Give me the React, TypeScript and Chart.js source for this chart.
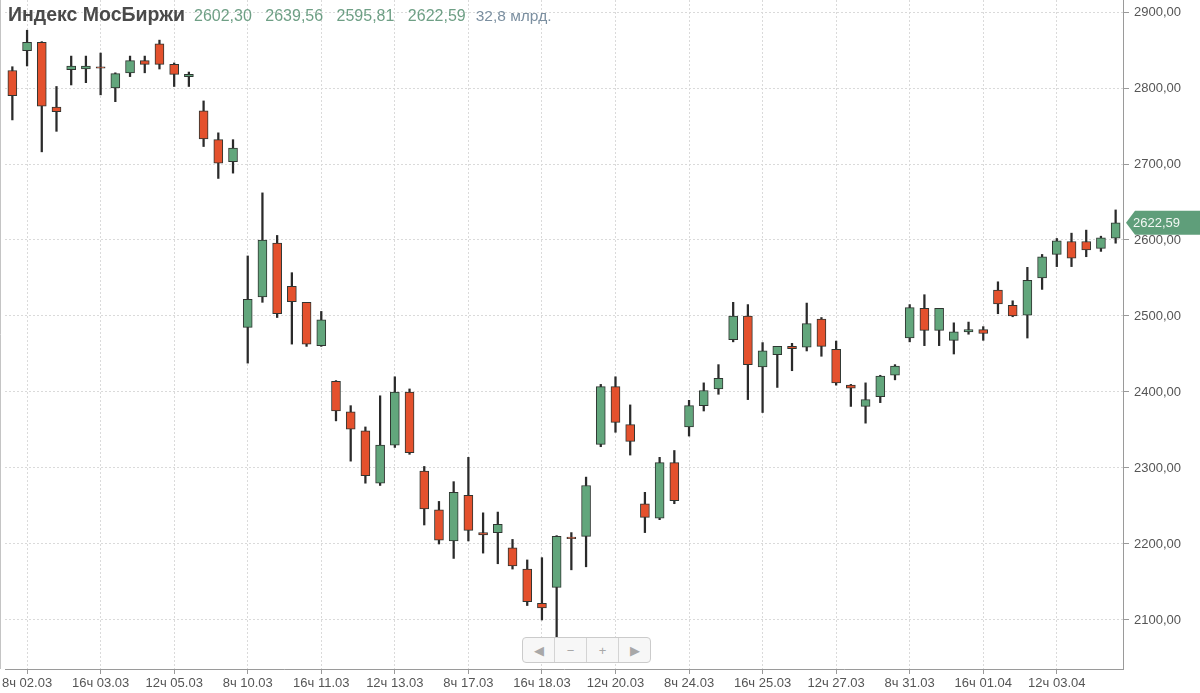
import { useEffect, useRef } from "react"
import { Chart, registerables } from "chart.js"

Chart.register(...registerables)

// trading days shown on the chart, three 4h candles per day (8ч, 12ч, 16ч)
const tradingDays = [
  "28.02", "02.03", "03.03", "04.03", "05.03", "06.03", "10.03", "11.03", "12.03",
  "13.03", "16.03", "17.03", "18.03", "19.03", "20.03", "23.03", "24.03", "25.03",
  "26.03", "27.03", "30.03", "31.03", "01.04", "02.04", "03.04", "06.04",
]
const sessionHours = ["8ч", "12ч", "16ч"]
// chart begins at the last candle of 28.02
const categories = tradingDays.flatMap((d) => sessionHours.map((h) => `${h} ${d}`)).slice(2)

const xTickLabels = [
  "8ч 02.03", "16ч 03.03", "12ч 05.03", "8ч 10.03", "16ч 11.03", "12ч 13.03", "8ч 17.03",
  "16ч 18.03", "12ч 20.03", "8ч 24.03", "16ч 25.03", "12ч 27.03", "8ч 31.03", "16ч 01.04", "12ч 03.04",
]
const yTickValues = [2100, 2200, 2300, 2400, 2500, 2600, 2700, 2800, 2900]

const opens = [
  2823, 2849, 2860, 2775, 2824, 2825, 2828, 2800, 2820, 2836, 2858, 2831, 2815, 2770, 2732, 2703,
  2485, 2525, 2596, 2539, 2518, 2461, 2414, 2374, 2349, 2280, 2330, 2400, 2296, 2245, 2204, 2264,
  2215, 2215, 2195, 2167, 2122, 2143, 2209, 2210, 2331, 2407, 2357, 2253, 2234, 2307, 2354, 2382,
  2404, 2469, 2500, 2433, 2449, 2460, 2459, 2496, 2456, 2409, 2381, 2394, 2422, 2471, 2510, 2481,
  2468, 2479, 2482, 2534, 2514, 2501, 2550, 2581, 2598, 2598, 2589, 2602.3,
]
const highs = [
  2828, 2876, 2861, 2802, 2842, 2842, 2846, 2820, 2842, 2842, 2863, 2833, 2821, 2783, 2741, 2732,
  2579, 2662, 2606, 2557, 2518, 2506, 2415, 2382, 2354, 2395, 2420, 2404, 2302, 2256, 2282, 2314,
  2241, 2242, 2206, 2179, 2182, 2211, 2215, 2288, 2410, 2420, 2383, 2268, 2314, 2323, 2389, 2412,
  2436, 2518, 2515, 2465, 2460, 2464, 2517, 2498, 2467, 2410, 2412, 2422, 2436, 2515, 2528, 2510,
  2491, 2492, 2486, 2545, 2520, 2564, 2581, 2602, 2609, 2613, 2605, 2639.56,
]
const lows = [
  2758, 2829, 2716, 2743, 2804, 2807, 2791, 2782, 2815, 2820, 2825, 2802, 2802, 2723, 2681, 2688,
  2438, 2518, 2498, 2463, 2460, 2460, 2362, 2309, 2280, 2277, 2327, 2318, 2225, 2200, 2181, 2204,
  2188, 2174, 2167, 2119, 2100, 2076, 2166, 2170, 2328, 2347, 2317, 2215, 2232, 2253, 2342, 2375,
  2397, 2466, 2390, 2373, 2406, 2428, 2454, 2447, 2409, 2381, 2359, 2386, 2416, 2466, 2461, 2461,
  2450, 2476, 2468, 2503, 2499, 2471, 2535, 2565, 2565, 2578, 2585, 2595.81,
]
const closes = [
  2790, 2860, 2776, 2769, 2829, 2829, 2826, 2819, 2836, 2831, 2831, 2818, 2818, 2733, 2701, 2721,
  2522, 2600, 2503, 2519, 2463, 2495, 2375, 2351, 2290, 2330, 2400, 2320, 2246, 2205, 2268, 2218,
  2212, 2226, 2171, 2124, 2116, 2210, 2207, 2277, 2407, 2360, 2335, 2235, 2307, 2257, 2382, 2402,
  2418, 2500, 2436, 2454, 2460, 2457, 2490, 2460, 2412, 2405, 2390, 2421, 2434, 2511, 2481, 2510,
  2479, 2482, 2477, 2516, 2500, 2547, 2578, 2599, 2576, 2587, 2603, 2622.59,
]

const UP = "#62a67c"
const DOWN = "#e4512d"
const FONT = "Arial, 'Liberation Sans', sans-serif"

const fmt = (v: number) => v.toFixed(2).replace(".", ",")

const framePlugin = {
  id: "frame",
  afterDraw(chart: Chart) {
    const { ctx, chartArea } = chart
    const yScale = chart.scales.y
    ctx.save()
    ctx.strokeStyle = "#c4c4c4"
    ctx.lineWidth = 1
    ctx.beginPath()
    ctx.moveTo(0.5, 0)
    ctx.lineTo(0.5, chartArea.bottom)
    ctx.stroke()

    // last price tag on the axis
    const last = closes[closes.length - 1]
    const py = yScale.getPixelForValue(last)
    const x0 = chartArea.right + 3
    ctx.fillStyle = "#5f9e7a"
    ctx.beginPath()
    ctx.moveTo(x0, py)
    ctx.lineTo(x0 + 9, py - 12)
    ctx.lineTo(chart.width, py - 12)
    ctx.lineTo(chart.width, py + 12)
    ctx.lineTo(x0 + 9, py + 12)
    ctx.closePath()
    ctx.fill()
    ctx.fillStyle = "#f2f7f3"
    ctx.font = `13px ${FONT}`
    ctx.textBaseline = "middle"
    ctx.fillText(fmt(last), x0 + 7, py + 1)
    ctx.restore()
  },
}

function CandleChart() {
  const chartRef = useRef<HTMLCanvasElement>(null)
  const chartInstance = useRef<Chart | null>(null)

  useEffect(() => {
    if (!chartRef.current) return
    if (chartInstance.current) chartInstance.current.destroy()
    const ctx = chartRef.current.getContext("2d")
    if (!ctx) return

    const colors = closes.map((c, i) => (c >= opens[i] ? UP : DOWN))

    chartInstance.current = new Chart(ctx, {
      type: "bar",
      data: {
        labels: categories,
        datasets: [
          {
            label: "body",
            data: opens.map((o, i) => [o, closes[i]]),
            backgroundColor: colors,
            borderColor: "#2f3531",
            borderWidth: 1,
            borderSkipped: false,
            barThickness: 9,
            grouped: false,
            order: 1,
          },
          {
            label: "wick",
            data: lows.map((l, i) => [l, highs[i]]),
            backgroundColor: "#2a2a2a",
            borderWidth: 0,
            barThickness: 1.6,
            grouped: false,
            order: 2,
          },
        ],
      },
      options: {
        responsive: true,
        maintainAspectRatio: false,
        animation: false,
        layout: { padding: { left: 5, top: 0, right: 0, bottom: 0 } },
        plugins: {
          legend: { display: false },
          tooltip: { enabled: false },
        },
        scales: {
          x: {
            type: "category",
            offset: true,
            afterBuildTicks: (axis: any) => {
              axis.ticks = axis.ticks.filter((t: any) => xTickLabels.includes(categories[t.value]))
            },
            afterFit: (axis: any) => {
              axis.height = 24
              axis.paddingLeft = 0
              axis.paddingRight = 0
            },
            grid: {
              offset: false,
              color: "#dadada",
              lineWidth: 1,
              tickLength: 5,
              tickColor: "#9a9a9a",
              tickBorderDash: [],
            },
            border: { display: true, color: "#9a9a9a", dash: [2, 2] },
            ticks: {
              autoSkip: false,
              maxRotation: 0,
              padding: 2,
              color: "#555",
              font: { family: FONT, size: 13 },
            },
          },
          y: {
            position: "right",
            min: 2035.5,
            max: 2915.8,
            afterBuildTicks: (axis: any) => {
              axis.ticks = yTickValues.map((value) => ({ value }))
            },
            afterFit: (axis: any) => {
              axis.width = 77
              axis.paddingTop = 0
              axis.paddingBottom = 0
            },
            grid: {
              color: "#dadada",
              lineWidth: 1,
              tickLength: 6,
              tickColor: "#9a9a9a",
              tickBorderDash: [],
            },
            border: { display: true, color: "#9a9a9a", dash: [2, 2] },
            ticks: {
              padding: 5,
              color: "#555",
              font: { family: FONT, size: 13 },
              callback: (v: any) => fmt(Number(v)),
            },
          },
        },
      },
      plugins: [framePlugin],
    })

    return () => {
      if (chartInstance.current) {
        chartInstance.current.destroy()
        chartInstance.current = null
      }
    }
  }, [])

  return <canvas ref={chartRef} />
}

const navButton: React.CSSProperties = {
  width: 31,
  height: 24,
  display: "flex",
  alignItems: "center",
  justifyContent: "center",
  color: "#a8a8a8",
  fontSize: 13,
}

export default function App() {
  return (
    <div
      style={{
        position: "fixed",
        left: 0,
        top: 0,
        width: 1200,
        height: 693,
        background: "#fff",
        fontFamily: FONT,
      }}
    >
      <CandleChart />
      <div
        style={{
          position: "absolute",
          left: 8,
          top: 3,
          whiteSpace: "nowrap",
          pointerEvents: "none",
          display: "flex",
          alignItems: "baseline",
        }}
      >
        <span style={{ fontWeight: "bold", fontSize: 19.5, color: "#4a4a4a", marginRight: 9 }}>
          Индекс МосБиржи
        </span>
        <span style={{ color: "#6e9f85", fontSize: 16, wordSpacing: 9 }}>2602,30 2639,56 2595,81 2622,59</span>
        <span style={{ color: "#7b8fa0", marginLeft: 10, fontSize: 15.5 }}>32,8 млрд.</span>
      </div>
      <div
        style={{
          position: "absolute",
          left: 522,
          top: 637,
          display: "flex",
          border: "1px solid #cbcbcb",
          borderRadius: 4,
          background: "#f7f7f7",
        }}
      >
        <div style={navButton}>◀</div>
        <div style={{ ...navButton, borderLeft: "1px solid #d4d4d4" }}>−</div>
        <div style={{ ...navButton, borderLeft: "1px solid #d4d4d4" }}>+</div>
        <div style={{ ...navButton, borderLeft: "1px solid #d4d4d4" }}>▶</div>
      </div>
    </div>
  )
}
